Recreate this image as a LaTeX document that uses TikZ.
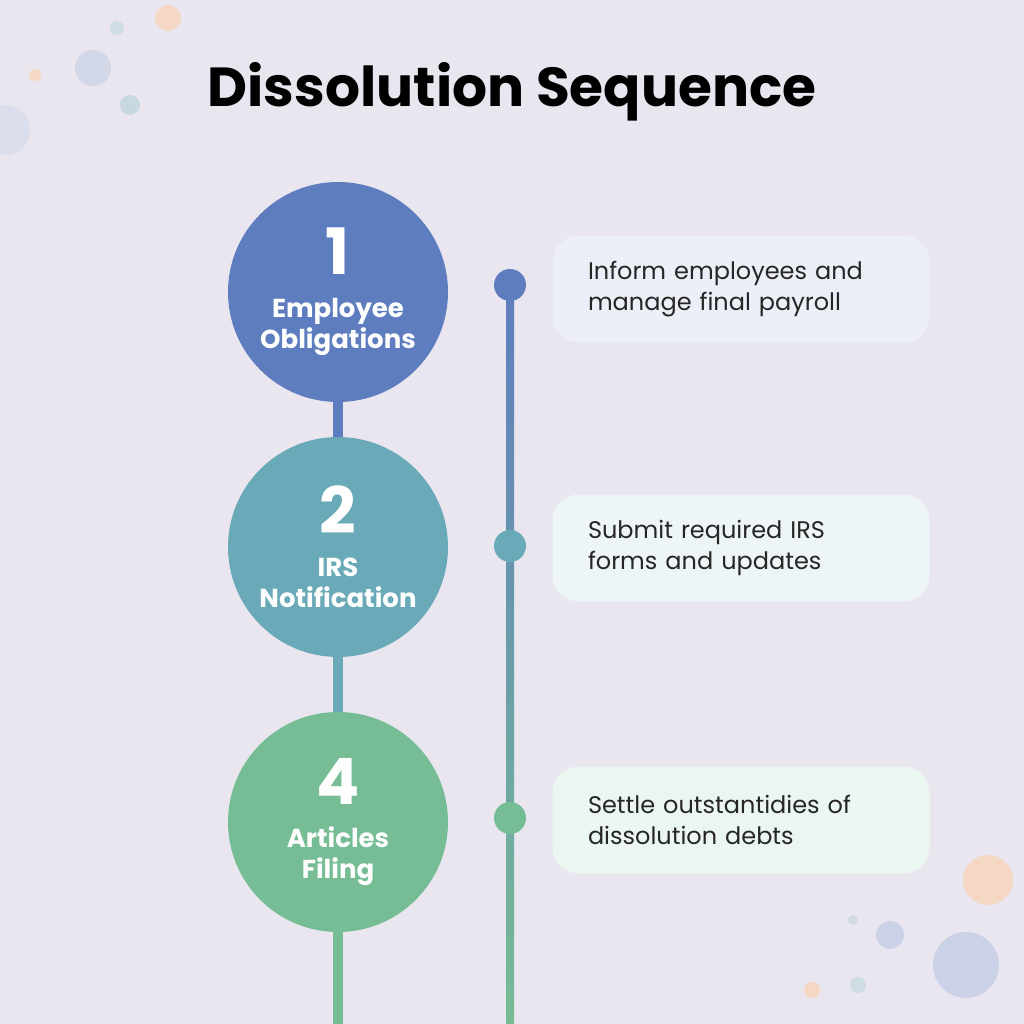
\documentclass[tikz,border=0pt]{standalone}
\usepackage{fontspec}
\setmainfont{Poppins}
\begin{document}
\begin{tikzpicture}[x=1pt,y=-1pt,
  stepc/.style={circle,minimum size=220pt,inner sep=0pt,text=white,align=center,font=\fontsize{26}{31}\selectfont\bfseries},
  dot/.style={circle,minimum size=32pt,inner sep=0pt},
  box/.style={rounded corners=26pt,minimum width=377pt,minimum height=107pt,text width=306pt,align=left,font=\fontsize{24}{31}\selectfont,text=black!85},
  bub/.style={opacity=0.5}]
\definecolor{bg}{HTML}{E9E6EF}
\definecolor{cA}{HTML}{5E7DBF}
\definecolor{cB}{HTML}{6AAAB8}
\definecolor{cC}{HTML}{76BC94}
\fill[bg] (0,0) rectangle (1024,1024);
\useasboundingbox (0,0) rectangle (1024,1024);
% bubbles
\fill[bub,color=cA!40] (93,68) circle (18);
\fill[bub,color=cB!60] (130,105) circle (10);
\fill[bub,color=orange!40] (168,18) circle (13);
\fill[bub,color=cB!50] (117,28) circle (7);
\fill[bub,color=orange!40] (35,75) circle (6);
\fill[bub,color=cA!30] (5,130) circle (25);
\fill[bub,color=orange!40] (988,880) circle (25);
\fill[bub,color=cA!50] (966,965) circle (33);
\fill[bub,color=cA!50] (890,935) circle (14);
\fill[bub,color=cB!50] (858,985) circle (8);
\fill[bub,color=orange!40] (812,990) circle (8);
\fill[bub,color=cB!50] (853,920) circle (5);
\node[font=\fontsize{55}{60}\selectfont\bfseries] (title) at (512,92) {Dissolution Sequence};
% left connectors
\fill[cA] (333,380) rectangle (343,460);
\fill[cB] (333,640) rectangle (343,730);
\fill[cC] (333,910) rectangle (343,1024);
\node[stepc,fill=cA] (s1) at (338,292) {{\fontsize{64}{64}\selectfont 1}\\[12pt]Employee\\Obligations};
\node[stepc,fill=cB] (s2) at (338,547) {{\fontsize{64}{64}\selectfont 2}\\[12pt]IRS\\Notification};
\node[stepc,fill=cC] (s3) at (338,822) {{\fontsize{64}{64}\selectfont 4}\\[12pt]Articles\\Filing};
% timeline
\shade[top color=cA,bottom color=cC] (506,285) rectangle (514,1024);
\node[dot,fill=cA] (d1) at (510,285) {};
\node[dot,fill=cB] (d2) at (510,546) {};
\node[dot,fill=cC] (d3) at (510,818) {};
\node[box,fill=cA!12] (b1) at (741,289) {Inform employees and\\manage final payroll};
\node[box,fill=cB!12] (b2) at (741,548) {Submit required IRS\\forms and updates};
\node[box,fill=cC!14] (b3) at (741,820) {Settle outstantidies of\\dissolution debts};
\end{tikzpicture}
\end{document}
